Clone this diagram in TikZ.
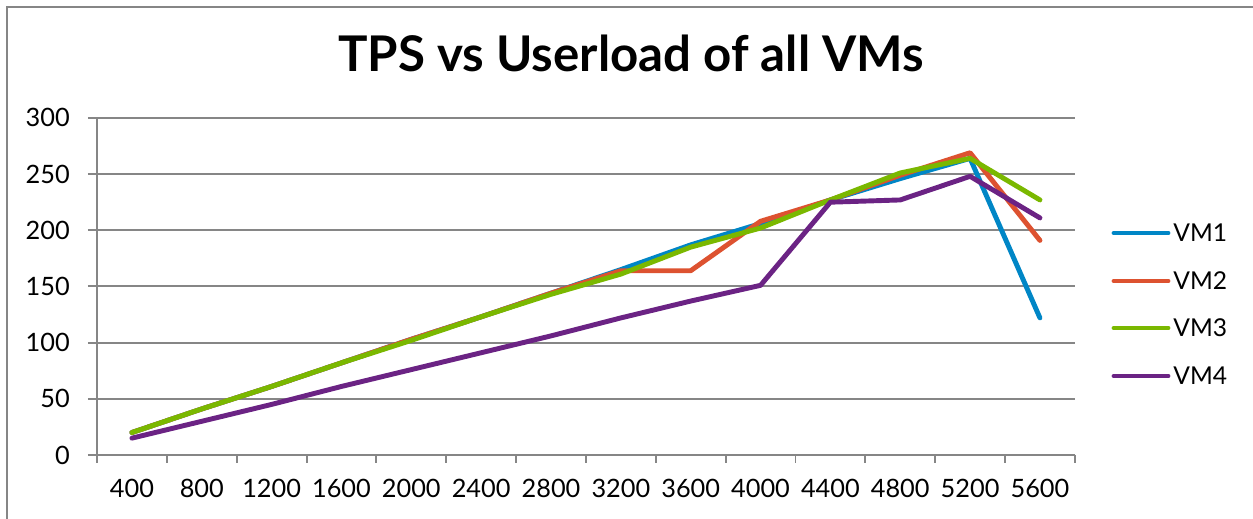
\documentclass[tikz,border=0pt]{standalone}
\usepackage{fontspec}
\setmainfont{Lato}
\usepackage{xcolor}
\usepackage{tikz}
\usetikzlibrary{calc}
\usetikzlibrary{positioning}
\definecolor{gridgray}{RGB}{134,134,134}
\definecolor{vmblue}{RGB}{0,134,198}
\definecolor{vmred}{RGB}{221,82,48}
\definecolor{vmgreen}{RGB}{122,184,0}
\definecolor{vmpurple}{RGB}{107,35,132}

\begin{document}
\begin{tikzpicture}[x=0.02cm,y=0.02cm,
	grid/.style={gridgray,line width=1.1pt},
	series/.style={line width=2.8pt,line join=round,line cap=round},
	axislabel/.style={inner sep=0pt,font=\fontsize{14.4}{17}\selectfont},
	keylabel/.style={inner sep=0pt,anchor=west,font=\fontsize{14}{17}\selectfont}]
	\useasboundingbox (0,0) rectangle (1253,519);
	\draw[gridgray,line width=1.1pt] (7,0) -- (7,512) -- (1253,512);
	\node[anchor=base,font=\bfseries\fontsize{28}{31}\selectfont] (title) at (631,447) {TPS vs Userload of all VMs};
	\begin{scope}[shift={(97,64)},x=1.3972cm,y=0.022474cm]
	\foreach \v in {50,100,...,300}
		\draw[grid] (-0.13,\v) -- (14,\v);
	\draw[grid] (-0.13,0) -- (14,0);
	\draw[grid] (0,0) -- (0,300);
	\foreach \i in {0,...,14}
		\draw[grid] (\i,0) -- (\i,-7);
	\foreach \v in {0,50,...,300}
		\node[axislabel,anchor=east] (y\v) at (-0.386,\v) {\v};
	\foreach \i [evaluate=\i as \u using int(400*\i)] in {1,...,14}
		\node[axislabel] (x\i) at (\i-0.5,-30) {\u};
	\draw[series,vmblue] (0.5,20) -- (1.5,41) -- (2.5,61) -- (3.5,82) -- (4.5,103) -- (5.5,123) -- (6.5,144) -- (7.5,165) -- (8.5,187) -- (9.5,206) -- (10.5,227) -- (11.5,246) -- (12.5,264) -- (13.5,122);
	\draw[series,vmred] (0.5,20) -- (1.5,41) -- (2.5,61) -- (3.5,82) -- (4.5,103) -- (5.5,123) -- (6.5,144) -- (7.5,164) -- (8.5,164) -- (9.5,208) -- (10.5,227) -- (11.5,249) -- (12.5,269) -- (13.5,191);
	\draw[series,vmgreen] (0.5,20) -- (1.5,41) -- (2.5,61) -- (3.5,82) -- (4.5,102) -- (5.5,123) -- (6.5,143) -- (7.5,161) -- (8.5,185) -- (9.5,202) -- (10.5,227) -- (11.5,251) -- (12.5,264) -- (13.5,227);
	\draw[series,vmpurple] (0.5,15) -- (1.5,30) -- (2.5,45) -- (3.5,61) -- (4.5,76) -- (5.5,91) -- (6.5,106) -- (7.5,122) -- (8.5,137) -- (9.5,151) -- (10.5,225) -- (11.5,227) -- (12.5,248) -- (13.5,211);
	\end{scope}
	\draw[series,vmblue] (1114,286) -- (1168,286);
	\draw[series,vmred] (1114,238) -- (1168,238);
	\draw[series,vmgreen] (1114,191) -- (1168,191);
	\draw[series,vmpurple] (1114,143) -- (1168,143);
	\node[keylabel] (key1) at (1173,286) {VM1};
	\node[keylabel] (key2) at (1173,238) {VM2};
	\node[keylabel] (key3) at (1173,191) {VM3};
	\node[keylabel] (key4) at (1173,143) {VM4};
\end{tikzpicture}
\end{document}
